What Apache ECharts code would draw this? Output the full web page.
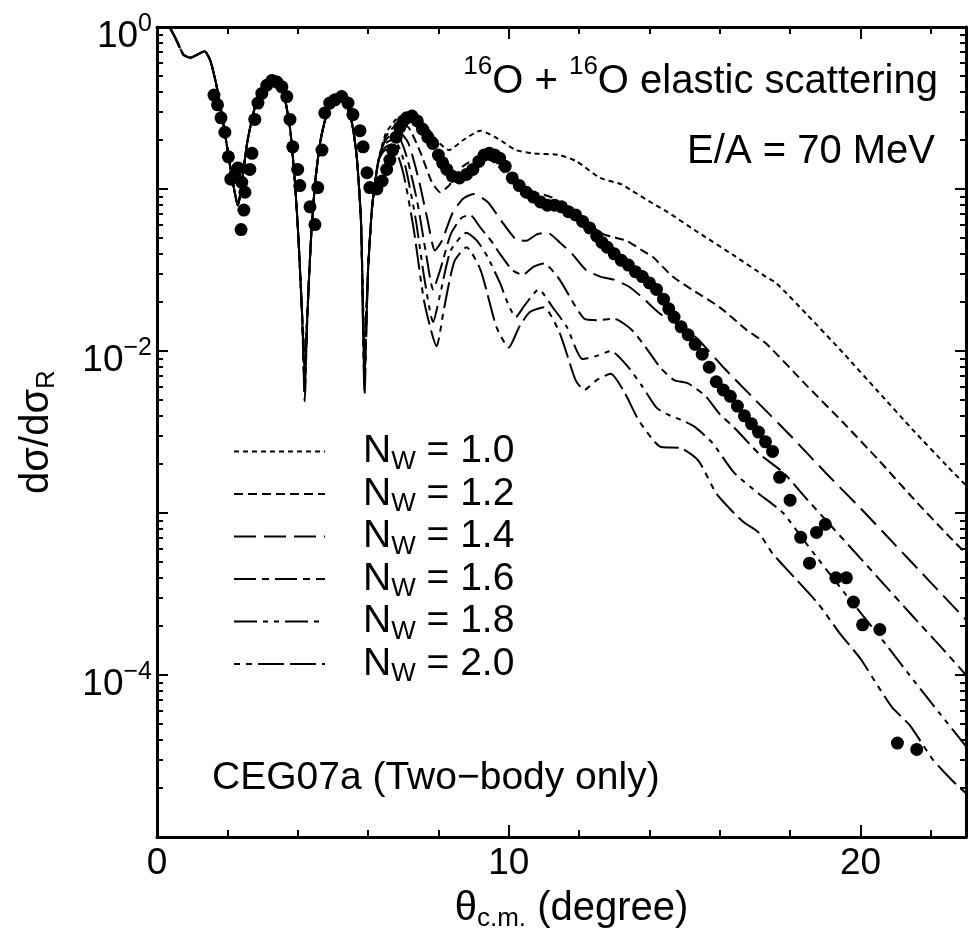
<!DOCTYPE html>
<html>
<head>
<meta charset="utf-8">
<script src="https://cdn.jsdelivr.net/npm/echarts@6/dist/echarts.min.js"></script>
<style>
  html, body { margin: 0; padding: 0; background: #fff; }
  #main { width: 975px; height: 940px; }
</style>
</head>
<body>
<div id="main"></div>
<script>
const FONT = 'Liberation Sans'

// forward angles: all six calculated curves lie on top of each other here
const thetaShared = [0.36, 0.55, 0.75, 0.95, 1.15, 1.35, 1.52, 1.70, 1.85, 2.00, 2.15, 2.30, 2.42, 2.56, 2.72, 2.90, 3.10, 3.28, 3.45, 3.62, 3.78, 3.92]
const sigmaShared = [1.0, 0.832, 0.676, 0.646, 0.676, 0.708, 0.617, 0.427, 0.282, 0.178, 0.112, 0.0794, 0.112, 0.191, 0.282, 0.389, 0.457, 0.479, 0.457, 0.372, 0.240, 0.112]

// N_W = 1.0
const thetaNw10 = [4.02, 4.12, 4.20, 4.28, 4.38, 4.50, 4.65, 4.85, 5.05, 5.22, 5.40, 5.55, 5.68, 5.80, 5.90, 6.00, 6.12, 6.30,
  6.5, 6.8, 7.2, 7.6, 8.0, 8.3, 8.7, 9.2, 9.7, 10.2, 10.7, 11.45, 11.93, 12.6, 13.2, 13.5, 14.1, 14.5, 15.4, 16.4, 17.3, 17.6,
  18.5, 19.5, 20.5, 21.5, 22.5, 23.0]
const sigmaNw10 = [0.0501, 0.0178, 0.0100, 0.0178, 0.0501, 0.112, 0.200, 0.302, 0.355, 0.363, 0.324, 0.251, 0.158, 0.0631, 0.0112, 0.0316, 0.0794, 0.151,
  0.219, 0.269, 0.295, 0.251, 0.195, 0.174, 0.200, 0.229, 0.204, 0.174, 0.166, 0.162, 0.148, 0.117, 0.107, 0.0977, 0.0813, 0.0724, 0.0537, 0.0389, 0.0288, 0.0263,
  0.0166, 0.00977, 0.00562, 0.00324, 0.00191, 0.00148]

// N_W = 1.2
const thetaNw12 = [4.02, 4.12, 4.20, 4.28, 4.38, 4.50, 4.65, 4.85, 5.05, 5.22, 5.40, 5.55, 5.68, 5.80, 5.90, 6.00, 6.12, 6.30,
  6.5, 6.85, 7.15, 7.5, 7.8, 8.05, 8.3, 8.7, 9.2, 9.6, 10.1, 10.5, 10.9, 11.3, 11.8, 12.3, 12.7, 13.35, 13.8, 14.1, 14.66, 15.2,
  16.0, 16.76, 17.3, 18.5, 19.5, 20.5, 21.5, 22.5, 23.0]
const sigmaNw12 = [0.0501, 0.0178, 0.00832, 0.0178, 0.0501, 0.112, 0.200, 0.302, 0.355, 0.363, 0.324, 0.251, 0.158, 0.0631, 0.00955, 0.0316, 0.0794, 0.151,
  0.209, 0.251, 0.240, 0.166, 0.112, 0.0955, 0.105, 0.138, 0.158, 0.145, 0.112, 0.0955, 0.0933, 0.0871, 0.0724, 0.0603, 0.0525, 0.0479, 0.0417, 0.0380, 0.0288, 0.0240,
  0.0186, 0.0135, 0.0112, 0.00603, 0.00363, 0.00214, 0.00123, 0.000724, 0.000562]

// N_W = 1.4
const thetaNw14 = [4.02, 4.12, 4.20, 4.28, 4.38, 4.50, 4.65, 4.85, 5.05, 5.22, 5.40, 5.55, 5.68, 5.80, 5.90, 6.00, 6.12, 6.30,
  6.5, 6.85, 7.15, 7.45, 7.7, 7.9, 8.1, 8.4, 8.7, 9.0, 9.4, 9.8, 10.2, 10.5, 10.8, 11.1, 11.45, 11.8, 12.2, 12.6, 13.0, 13.4,
  13.8, 14.3, 15.05, 15.4, 16.1, 17.0, 18.0, 19.0, 20.0, 21.0, 22.0, 23.0]
const sigmaNw14 = [0.0501, 0.0178, 0.00724, 0.0178, 0.0501, 0.112, 0.200, 0.302, 0.355, 0.363, 0.324, 0.251, 0.158, 0.0631, 0.00832, 0.0316, 0.0794, 0.151,
  0.200, 0.229, 0.191, 0.112, 0.0631, 0.0417, 0.0479, 0.0708, 0.0871, 0.0933, 0.0832, 0.0631, 0.0490, 0.0479, 0.0525, 0.0537, 0.0468, 0.0398, 0.0316, 0.0288, 0.0275, 0.0251,
  0.0214, 0.0170, 0.0135, 0.0117, 0.00794, 0.00501, 0.00302, 0.00178, 0.00107, 0.000631, 0.000372, 0.000219]

// N_W = 1.6
const thetaNw16 = [4.02, 4.12, 4.20, 4.28, 4.38, 4.50, 4.65, 4.85, 5.05, 5.22, 5.40, 5.55, 5.68, 5.80, 5.90, 6.00, 6.12, 6.30,
  6.5, 6.85, 7.1, 7.4, 7.65, 7.85, 8.05, 8.35, 8.65, 8.9, 9.2, 9.5, 9.75, 10.1, 10.4, 10.7, 11.0, 11.45, 11.8, 12.15, 12.5, 13.0,
  13.5, 13.9, 14.3, 14.7, 15.1, 15.6, 16.0, 16.4, 17.1, 17.8, 18.5, 19.5, 20.5, 21.5, 22.3, 23.0]
const sigmaNw16 = [0.0501, 0.0178, 0.00631, 0.0178, 0.0501, 0.112, 0.200, 0.302, 0.355, 0.363, 0.324, 0.251, 0.158, 0.0631, 0.00724, 0.0316, 0.0794, 0.151,
  0.191, 0.209, 0.158, 0.0832, 0.0398, 0.0240, 0.0316, 0.0525, 0.0661, 0.0692, 0.0575, 0.0479, 0.0398, 0.0316, 0.0295, 0.0331, 0.0347, 0.0275, 0.0204, 0.0158, 0.0155, 0.0158,
  0.0135, 0.0105, 0.00794, 0.00661, 0.00631, 0.00525, 0.00407, 0.00339, 0.00234, 0.00178, 0.00120, 0.000692, 0.000398, 0.000229, 0.000148, 0.000100]

// N_W = 1.8
const thetaNw18 = [4.02, 4.12, 4.20, 4.28, 4.38, 4.50, 4.65, 4.85, 5.05, 5.22, 5.40, 5.55, 5.68, 5.80, 5.90, 6.00, 6.12, 6.30,
  6.5, 6.8, 7.05, 7.35, 7.6, 7.85, 8.05, 8.35, 8.8, 9.1, 9.4, 9.75, 10.0, 10.2, 10.45, 10.85, 11.25, 11.65, 12.1, 12.5, 12.9, 13.4,
  13.8, 14.2, 14.6, 14.95, 15.3, 15.8, 16.4, 17.1, 17.8, 18.5, 19.5, 20.5, 21.5, 22.3, 23.0]
const sigmaNw18 = [0.0501, 0.0178, 0.00562, 0.0178, 0.0501, 0.112, 0.200, 0.302, 0.355, 0.363, 0.324, 0.251, 0.158, 0.0631, 0.00631, 0.0316, 0.0794, 0.151,
  0.182, 0.191, 0.141, 0.0661, 0.0282, 0.0151, 0.0224, 0.0417, 0.0537, 0.0479, 0.0380, 0.0263, 0.0191, 0.0162, 0.0191, 0.0240, 0.0186, 0.0141, 0.00891, 0.00933, 0.0100, 0.00794,
  0.00603, 0.00447, 0.00398, 0.00372, 0.00339, 0.00269, 0.00178, 0.00132, 0.00100, 0.000631, 0.000331, 0.000178, 0.0000933, 0.0000562, 0.0000363]

// N_W = 2.0
const thetaNw20 = [4.02, 4.12, 4.20, 4.28, 4.38, 4.50, 4.65, 4.85, 5.05, 5.22, 5.40, 5.55, 5.68, 5.80, 5.90, 6.00, 6.12, 6.30,
  6.5, 6.75, 7.0, 7.3, 7.6, 7.95, 8.15, 8.45, 8.8, 9.2, 9.65, 10.0, 10.3, 10.6, 11.0, 11.45, 11.9, 12.15, 12.5, 12.9, 13.3, 13.7,
  14.3, 14.9, 15.4, 15.9, 16.4, 16.7, 17.1, 17.5, 18.0, 18.8, 19.4, 20.0, 20.5, 20.9, 21.4, 22.05, 22.6, 23.0]
const sigmaNw20 = [0.0501, 0.0178, 0.00490, 0.0178, 0.0501, 0.112, 0.200, 0.302, 0.355, 0.363, 0.324, 0.251, 0.158, 0.0631, 0.00537, 0.0316, 0.0794, 0.151,
  0.174, 0.174, 0.126, 0.0562, 0.0200, 0.0107, 0.0178, 0.0355, 0.0437, 0.0316, 0.0141, 0.0105, 0.0141, 0.0174, 0.0186, 0.0129, 0.00661, 0.00575, 0.00661, 0.00724, 0.00550, 0.00372,
  0.00257, 0.00251, 0.00209, 0.00132, 0.00100, 0.000871, 0.000759, 0.000562, 0.000427, 0.000275, 0.000182, 0.000126, 0.0000851, 0.0000631, 0.0000490, 0.0000302, 0.0000224, 0.0000186]

// measured points
const thetaData = [1.62, 1.72, 1.82, 1.93, 2.03, 2.10, 2.22, 2.30, 2.41, 2.50, 2.47, 2.39, 2.64, 2.70, 2.78, 2.87, 2.98, 3.12, 3.27, 3.41,
  3.55, 3.69, 3.78, 3.86, 4.00, 4.06, 4.35, 4.49, 4.57, 4.69, 4.77, 4.91, 5.06, 5.25, 5.43, 5.57, 5.77, 5.86, 5.97, 6.05,
  6.25, 6.40, 6.53, 6.62, 6.70, 6.80, 6.90, 7.00, 7.10, 7.25, 7.40, 7.55, 7.70, 7.84, 8.00, 8.12, 8.24, 8.40, 8.60, 8.80,
  8.98, 9.15, 9.30, 9.45, 9.60, 9.74, 9.90, 10.10, 10.30, 10.50, 10.70, 10.90, 11.10, 11.30, 11.50, 11.70, 11.90, 12.10, 12.30, 12.50,
  12.65, 12.80, 13.00, 13.20, 13.40, 13.60, 13.80, 14.00, 14.20, 14.40, 14.55, 14.70, 14.90, 15.10, 15.30, 15.50, 15.70, 15.90, 16.10, 16.30,
  16.50, 16.70, 16.90, 17.10, 17.30, 17.50, 17.70, 18.00, 18.30, 18.55, 18.75, 19.00, 19.30, 19.60, 19.80, 20.06, 20.55, 21.05, 21.60]
const sigmaData = [0.380, 0.331, 0.275, 0.224, 0.158, 0.115, 0.123, 0.135, 0.110, 0.0955, 0.0741, 0.0562, 0.132, 0.166, 0.269, 0.339, 0.389, 0.437, 0.468, 0.457,
  0.427, 0.372, 0.269, 0.182, 0.132, 0.105, 0.0776, 0.0603, 0.102, 0.174, 0.295, 0.339, 0.355, 0.372, 0.339, 0.288, 0.229, 0.182, 0.126, 0.102,
  0.100, 0.112, 0.132, 0.151, 0.174, 0.209, 0.240, 0.263, 0.275, 0.282, 0.263, 0.234, 0.209, 0.191, 0.162, 0.145, 0.132, 0.120, 0.117, 0.123,
  0.132, 0.148, 0.162, 0.166, 0.162, 0.155, 0.138, 0.117, 0.105, 0.0955, 0.0891, 0.0832, 0.0794, 0.0794, 0.0776, 0.0724, 0.0692, 0.0631, 0.0575, 0.0513,
  0.0468, 0.0437, 0.0398, 0.0363, 0.0339, 0.0309, 0.0288, 0.0263, 0.0240, 0.0209, 0.0182, 0.0162, 0.0141, 0.0126, 0.0110, 0.00955, 0.00794, 0.00646, 0.00575, 0.00525,
  0.00457, 0.00398, 0.00355, 0.00316, 0.00275, 0.00240, 0.00166, 0.00120, 0.000708, 0.000490, 0.000759, 0.000851, 0.000398, 0.000398, 0.000282, 0.000204, 0.000191, 0.0000380, 0.0000347]

const nwValues = ['1.0', '1.2', '1.4', '1.6', '1.8', '2.0']
const curveTheta = [thetaNw10, thetaNw12, thetaNw14, thetaNw16, thetaNw18, thetaNw20]
const curveSigma = [sigmaNw10, sigmaNw12, sigmaNw14, sigmaNw16, sigmaNw18, sigmaNw20]

// dash patterns, dotted -> long dash-dot
const dashes = [[5, 4], [9, 5], [22, 8], [22, 6, 7, 6], [23, 6, 5, 6, 5, 6], [6, 6, 6, 6, 26, 6, 26, 6]]

function pairs(xs, ys) {
  return xs.map((x, i) => [x, ys[i]])
}

const txt = { color: '#000', fontFamily: FONT }

const series = nwValues.map((nw, i) => ({
  name: 'N_W = ' + nw,
  type: 'line',
  xAxisIndex: 0,
  yAxisIndex: 0,
  symbol: 'none',
  smooth: 0.2,
  lineStyle: { color: '#000', width: 2, type: dashes[i] },
  data: pairs(thetaShared, sigmaShared).concat(pairs(curveTheta[i], curveSigma[i]))
}))

series.push({
  name: 'data',
  type: 'scatter',
  xAxisIndex: 0,
  yAxisIndex: 0,
  symbol: 'circle',
  symbolSize: 13,
  itemStyle: { color: '#000', opacity: 1 },
  data: pairs(thetaData, sigmaData)
})

const frame = { onZero: false, lineStyle: { color: '#000', width: 3 } }

function xAx(position, interval, len, withLabels) {
  return {
    type: 'value',
    position: position,
    min: 0,
    max: 23,
    interval: interval,
    axisLine: interval === 2 ? frame : { show: false, onZero: false },
    axisTick: { inside: true, length: len, lineStyle: { color: '#000', width: 2 } },
    axisLabel: withLabels ? {
      ...txt, fontSize: 37, margin: 8, showMaxLabel: false,
      formatter: v => (v % 10 === 0 ? String(v) : '')
    } : { show: false },
    splitLine: { show: false }
  }
}

const xAxes = [
  xAx('bottom', 2, 7, true),
  xAx('bottom', 10, 12, false),
  xAx('top', 2, 7, false),
  xAx('top', 10, 12, false)
]
xAxes[0].name = '{p|\u03b8}{s|c.m.}{t| (degree)}'
xAxes[0].nameLocation = 'middle'
xAxes[0].nameGap = 49
xAxes[0].nameTextStyle = {
  rich: {
    p: { ...txt, fontSize: 40, lineHeight: 46, padding: [0, 0, 0, 20] },
    t: { ...txt, fontSize: 40, lineHeight: 46 },
    s: { ...txt, fontSize: 26, lineHeight: 20, verticalAlign: 'bottom' }
  }
}

function yAx(position, withLabels) {
  return {
    type: 'log',
    logBase: 10,
    position: position,
    min: 1e-5,
    max: 1,
    axisLine: frame,
    axisTick: { inside: true, length: 11, lineStyle: { color: '#000', width: 2 } },
    minorTick: { show: true, splitNumber: 9, length: 6, lineStyle: { color: '#000', width: 2 } },
    axisLabel: withLabels ? {
      margin: 5,
      padding: [20, 0, 0, 0],
      formatter: v => {
        const e = Math.round(Math.log10(v))
        if (e % 2 !== 0) return ''
        return '{b|10}{e|' + (e === 0 ? '0' : '\u2212' + (-e)) + '}'
      },
      rich: {
        b: { ...txt, fontSize: 37, lineHeight: 50 },
        e: { ...txt, fontSize: 25, lineHeight: 12, verticalAlign: 'top' }
      }
    } : { show: false },
    splitLine: { show: false }
  }
}

const yAxes = [yAx('left', true), yAx('right', false)]
yAxes[0].name = '{a|d\u03c3/d\u03c3}{r|R}'
yAxes[0].nameLocation = 'middle'
yAxes[0].nameRotate = 90
yAxes[0].nameGap = 97
yAxes[0].nameTextStyle = {
  rich: {
    a: { ...txt, fontSize: 40, lineHeight: 46 },
    r: { ...txt, fontSize: 26, lineHeight: 20, verticalAlign: 'bottom' }
  }
}

const chart = echarts.init(document.getElementById('main'))

const option = {
  animation: false,
  backgroundColor: '#fff',
  grid: { left: 157, right: 9, top: 27, bottom: 103, containLabel: false },
  xAxis: xAxes,
  yAxis: yAxes,
  legend: {
    data: series.slice(0, 6).map(s => s.name),
    orient: 'vertical',
    left: 233,
    top: 432,
    padding: 0,
    itemGap: 0,
    itemWidth: 91,
    itemHeight: 14,
    selectedMode: false,
    itemStyle: { opacity: 0 },
    formatter: name => '{a|N}{w|W}{n| = ' + name.split('= ')[1] + '}',
    textStyle: {
      rich: {
        a: { ...txt, fontSize: 39, lineHeight: 46, padding: [0, 0, 0, 33] },
        w: { ...txt, fontSize: 26, lineHeight: 22, verticalAlign: 'bottom' },
        n: { ...txt, fontSize: 39, lineHeight: 46 }
      }
    }
  },
  graphic: [
    {
      type: 'text',
      x: 938,
      y: 54,
      style: {
        text: '{s|16}{t|O + }{s|16}{t|O elastic scattering}',
        align: 'right',
        verticalAlign: 'top',
        rich: {
          s: { fill: '#000', fontFamily: FONT, fontSize: 26, lineHeight: 26, verticalAlign: 'top' },
          t: { fill: '#000', fontFamily: FONT, fontSize: 40, lineHeight: 56 }
        }
      }
    },
    {
      type: 'text',
      x: 935,
      y: 152,
      style: {
        text: 'E/A = 70 MeV',
        fill: '#000',
        fontFamily: FONT,
        fontSize: 40,
        align: 'right',
        verticalAlign: 'middle'
      }
    },
    {
      type: 'text',
      x: 212,
      y: 778,
      style: {
        text: 'CEG07a (Two\u2212body only)',
        fill: '#000',
        fontFamily: FONT,
        fontSize: 39,
        align: 'left',
        verticalAlign: 'middle'
      }
    }
  ],
  series: series
}

chart.setOption(option)
</script>
</body>
</html>
